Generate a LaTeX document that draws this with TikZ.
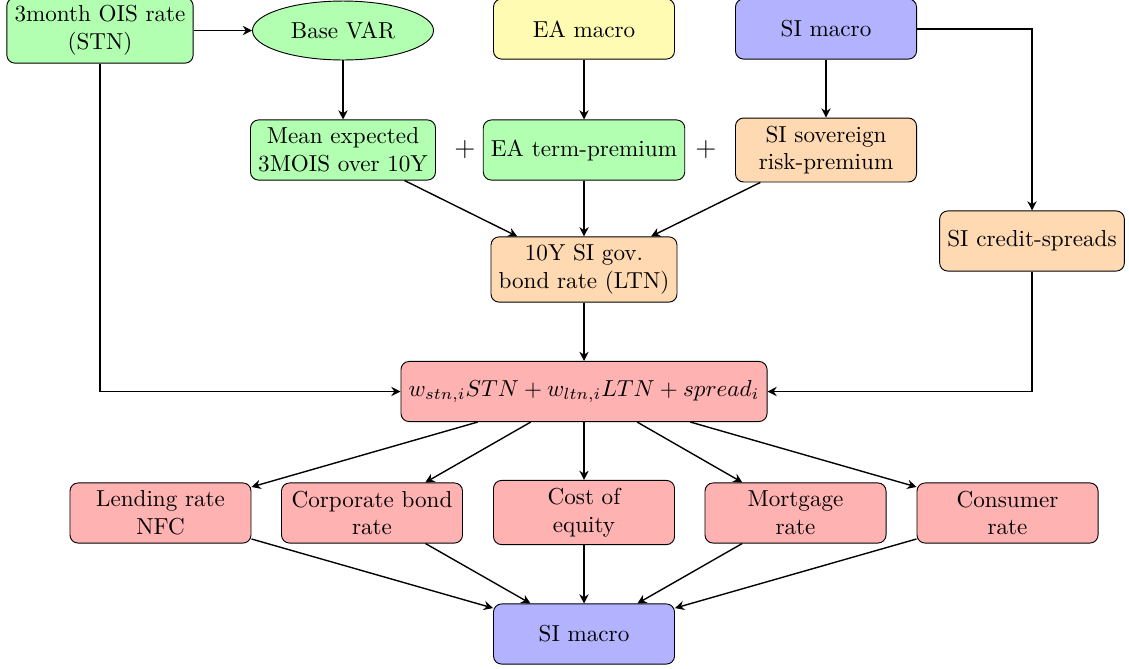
\documentclass[tikz,border=0pt]{standalone}
\usetikzlibrary{shapes.geometric,arrows.meta}
\begin{document}
\begin{tikzpicture}[x=0.4325pt,y=-0.4325pt,
  box/.style={draw, rounded corners=3.5pt, minimum width=78.3pt, minimum height=26pt, align=center, inner sep=3.33pt},
  gbox/.style={box, fill=green!30},
  ybox/.style={box, fill=yellow!30},
  bbox/.style={box, fill=blue!30},
  obox/.style={box, fill=orange!30},
  rbox/.style={box, fill=red!30},
  gell/.style={draw, ellipse, fill=green!30, minimum width=78.3pt, minimum height=25.5pt, inner sep=1pt},
  arr/.style={-{Stealth[length=4pt,width=4pt]}, semithick}]
\useasboundingbox (0,0) rectangle (1129,668);

\node[gbox] (stn) at (100,30.5) {3month OIS rate\\(STN)};
\node[gell] (var) at (343,30.5) {Base VAR};
\node[ybox] (eam) at (584,29) {EA macro};
\node[bbox] (sim) at (826,29) {SI macro};

\node[gbox] (mean) at (343,150) {Mean expected\\3MOIS over 10Y};
\node[gbox] (eatp) at (584,150) {EA term-premium};
\node[obox] (sisr) at (826,150) {SI sovereign\\risk-premium};
\node (p1) at (465,150) {\large $+$};
\node (p2) at (706,150) {\large $+$};

\node[obox] (cs) at (1032,241) {SI credit-spreads};
\node[obox] (ltn) at (584,269.5) {10Y SI gov.\\bond rate (LTN)};

\node[rbox] (f) at (584,391.5) {$w_{stn,i}STN + w_{ltn,i}LTN + spread_i$};

\node[rbox] (l1) at (160.5,513) {Lending rate\\NFC};
\node[rbox] (l2) at (372,513) {Corporate bond\\rate};
\node[rbox] (l3) at (584,512.5) {Cost of\\equity};
\node[rbox] (l4) at (795.5,513) {Mortgage\\rate};
\node[rbox] (l5) at (1007.5,513) {Consumer\\rate};

\node[bbox] (out) at (584,634) {SI macro};

\draw[arr] (stn) -- (var);
\draw[arr] (stn.south) |- (f.west);
\draw[arr] (var) -- (mean);
\draw[arr] (eam) -- (eatp);
\draw[arr] (sim) -- (sisr);
\draw[arr] (sim.east) -| (cs.north);
\draw[arr] (mean) -- (ltn);
\draw[arr] (eatp) -- (ltn);
\draw[arr] (sisr) -- (ltn);
\draw[arr] (ltn) -- (f);
\draw[arr] (cs.south) |- (f.east);
\foreach \n in {l1,l2,l3,l4,l5}{
  \draw[arr] (f) -- (\n);
  \draw[arr] (\n) -- (out);
}
\end{tikzpicture}
\end{document}
